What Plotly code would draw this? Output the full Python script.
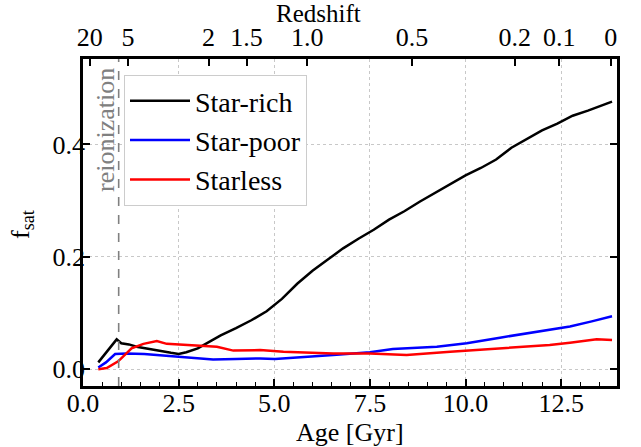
import numpy as np
import plotly.graph_objects as go

# ---- data ----
rich_t = [0.4, 0.55, 0.7, 0.88, 1.0, 1.2, 1.4, 1.7, 2.0, 2.3, 2.5, 2.7, 3.0, 3.3, 3.6, 4.0, 4.4,
          4.8, 5.2, 5.6, 6.0, 6.4, 6.8, 7.2, 7.6, 8.0, 8.4, 8.8, 9.2, 9.6, 10.0, 10.4, 10.8,
          11.2, 11.6, 12.0, 12.4, 12.8, 13.2, 13.6, 13.83]
rich_f = [0.012, 0.025, 0.038, 0.053, 0.046, 0.044, 0.040, 0.036, 0.032, 0.029, 0.027, 0.030,
          0.037, 0.048, 0.060, 0.073, 0.087, 0.103, 0.125, 0.152, 0.175, 0.195, 0.215, 0.232,
          0.248, 0.266, 0.281, 0.298, 0.314, 0.330, 0.345, 0.358, 0.373, 0.394, 0.410, 0.425,
          0.437, 0.451, 0.460, 0.470, 0.476]

poor_t = [0.4, 0.6, 0.84, 1.14, 1.6, 2.0, 2.54, 3.0, 3.4, 4.0, 4.63, 5.02, 5.8, 6.54, 7.5,
          8.1, 9.25, 10.03, 10.9, 11.77, 12.73, 13.3, 13.83]
poor_f = [0.003, 0.012, 0.027, 0.028, 0.027, 0.025, 0.022, 0.020, 0.017, 0.018, 0.019, 0.018,
          0.021, 0.025, 0.030, 0.036, 0.040, 0.046, 0.056, 0.066, 0.076, 0.085, 0.094]

less_t = [0.4, 0.62, 0.92, 1.27, 1.58, 1.93, 2.19, 2.88, 3.5, 3.93, 4.63, 5.24, 6.54, 7.5,
          8.46, 9.6, 10.9, 12.2, 12.73, 13.43, 13.83]
less_f = [0.0, 0.002, 0.014, 0.037, 0.045, 0.050, 0.045, 0.042, 0.040, 0.033, 0.034, 0.031,
          0.028, 0.028, 0.025, 0.031, 0.037, 0.043, 0.047, 0.053, 0.052]

redshift_ticks = [20, 5, 2, 1.5, 1.0, 0.5, 0.2, 0.1, 0]
redshift_labels = ["20", "5", "2", "1.5", "1.0", "0.5", "0.2", "0.1", "0"]
z_reion = 6.0

# flat LCDM age(z) in Gyr, used only to place redshift ticks
H0, Om = 67.7, 0.31
OL = 1 - Om
t_H = 977.8 / H0


def age(z):
    z = np.asarray(z, dtype=float)
    return 2.0 * t_H / (3.0 * np.sqrt(OL)) * np.arcsinh(np.sqrt(OL / Om) * (1 + z) ** -1.5)


xr = [0, 13.96]
yr = [-0.03, 0.552]
FONT = "Liberation Serif"
FS = 26

# plot area in pixels
L, R, T, B = 83, 617, 59, 386
W, H = 641, 447
PW, PH = R - L, B - T


def px(xp):
    return (xp - L) / PW


def py(yp):
    return (B - yp) / PH


fig = go.Figure()
for t, f, name, col in [(rich_t, rich_f, "Star-rich", "black"),
                        (poor_t, poor_f, "Star-poor", "blue"),
                        (less_t, less_f, "Starless", "red")]:
    fig.add_trace(go.Scatter(x=t, y=f, mode="lines", name=name,
                             line=dict(color=col, width=2.5)))

# invisible trace on the top axis
fig.add_trace(go.Scatter(x=[0], y=[0], xaxis="x2", mode="markers",
                         marker=dict(opacity=0), showlegend=False, hoverinfo="skip"))

t_re = float(age(z_reion))
fig.add_shape(type="line", xref="x", yref="paper", x0=t_re, x1=t_re, y0=0, y1=1,
              line=dict(color="gray", width=1.6, dash="dash"))
fig.add_annotation(text="reionization", xref="paper", yref="paper", x=px(105), y=py(130),
                   xanchor="center", yanchor="middle", textangle=-90, showarrow=False,
                   font=dict(family=FONT, size=FS, color="gray"))

# axis titles
fig.add_annotation(text="Age [Gyr]", xref="paper", yref="paper", x=px(350), y=py(432),
                   xanchor="center", yanchor="middle", showarrow=False,
                   font=dict(family=FONT, size=FS))
fig.add_annotation(text="Redshift", xref="paper", yref="paper", x=px(318), y=py(14),
                   xanchor="center", yanchor="middle", showarrow=False,
                   font=dict(family=FONT, size=25))
fig.add_annotation(text="f<sub>sat</sub>", xref="paper", yref="paper", x=px(22), y=py(225),
                   xanchor="center", yanchor="middle", textangle=-90, showarrow=False,
                   font=dict(family=FONT, size=FS))

fig.update_layout(
    width=W, height=H,
    margin=dict(l=L, r=W - R, t=T, b=H - B, autoexpand=False),
    paper_bgcolor="white", plot_bgcolor="white",
    font=dict(family=FONT, size=FS, color="black"),
    showlegend=True,
    legend=dict(x=px(124), y=py(75), xanchor="left", yanchor="top",
                bgcolor="white", bordercolor="#cccccc", borderwidth=1,
                font=dict(family=FONT, size=28), tracegroupgap=0,
                itemwidth=60),
    xaxis=dict(range=xr, showline=True, linecolor="black", linewidth=2.5, mirror=False,
               automargin=False, ticklabelstandoff=-8,
               ticks="inside", ticklen=7, tickwidth=1.5, tickcolor="black",
               tickvals=[0, 2.5, 5, 7.5, 10, 12.5],
               ticktext=["0.0", "2.5", "5.0", "7.5", "10.0", "12.5"],
               minor=dict(ticks="inside", dtick=0.5, ticklen=4, tickwidth=1.2,
                          tickcolor="black", showgrid=False),
               showgrid=True, gridcolor="#c8c8c8", griddash="dot", gridwidth=1,
               zeroline=False),
    xaxis2=dict(range=xr, overlaying="x", side="top", anchor="y", automargin=False,
                showline=True, linecolor="black", linewidth=2.5,
                ticks="inside", ticklen=7, tickwidth=1.5, tickcolor="black",
                tickvals=[float(v) for v in age(redshift_ticks)], ticktext=redshift_labels,
                showgrid=False, zeroline=False),
    yaxis=dict(range=yr, showline=True, linecolor="black", linewidth=2.5, mirror="ticks",
               automargin=False, ticklabelstandoff=-10,
               ticks="inside", ticklen=7, tickwidth=1.5, tickcolor="black",
               tickvals=[0, 0.2, 0.4], ticktext=["0.0", "0.2", "0.4"],
               showgrid=True, gridcolor="#c8c8c8", griddash="dot", gridwidth=1,
               zeroline=False),
)

fig.write_html("out.html", config={"displayModeBar": False},
               post_script="document.body.style.margin='0px';")
